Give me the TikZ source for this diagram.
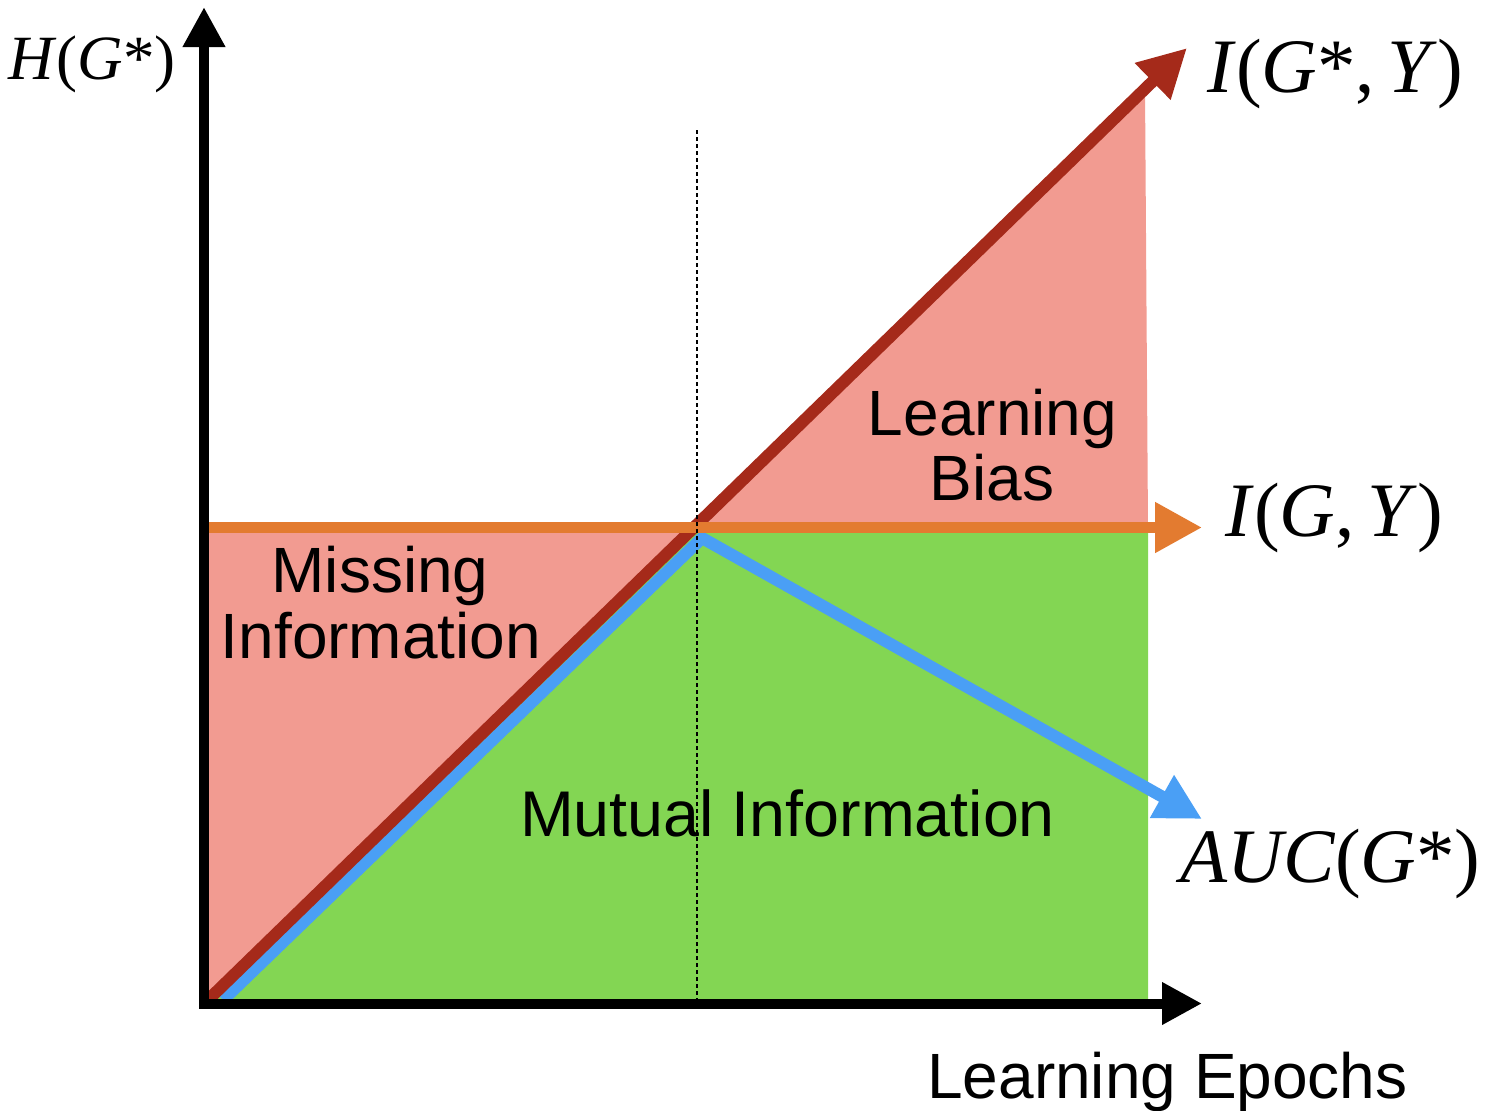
\documentclass[tikz,border=0pt]{standalone}
\usepackage{fontspec}
\setmainfont{Liberation Sans}
\newfontfamily\serifmath{Liberation Serif}
\usetikzlibrary{arrows.meta}
\definecolor{pinkF}{RGB}{242,155,145}
\definecolor{redL}{RGB}{165,42,26}
\definecolor{greenF}{RGB}{131,214,83}
\definecolor{blueL}{RGB}{74,159,245}
\definecolor{orangeL}{RGB}{227,123,48}
\begin{document}
\begin{tikzpicture}[x=0.5pt,y=-0.5pt,
  lbl/.style={font=\fontsize{32}{38}\selectfont, inner sep=0pt, anchor=base},
  mlbl/.style={font=\fontsize{38.5}{44}\serifmath, inner sep=0pt, anchor=base west},
  axisline/.style={line width=5pt, draw=black, -{Triangle[length=20pt,width=20pt]}},
  redline/.style={line width=6pt, draw=redL, -{Triangle[length=24pt,width=24pt]}},
  blueline/.style={line width=6pt, draw=blueL, -{Triangle[length=23pt,width=23pt]}},
  orangeline/.style={line width=5.5pt, draw=orangeL, -{Triangle[length=23.5pt,width=24pt]}},
  guide/.style={line width=1pt, draw=black, dash pattern=on 2pt off 1.5pt}]
\useasboundingbox (0,0) rectangle (1490,1110);
% key points
\coordinate (O) at (209,999);
\coordinate (X) at (697,527.5);
\coordinate (Rtip) at (1187,48);
\coordinate (Otip) at (1202,527.5);
\coordinate (Ostart) at (209,527.5);
\coordinate (B0) at (223,1000);
\coordinate (B1) at (702,538);
\coordinate (Btip) at (1202,819);
\coordinate (YA0) at (204,1008);
\coordinate (YAtip) at (204,7);
\coordinate (XA0) at (199,1003.5);
\coordinate (XAtip) at (1202,1003.5);
\coordinate (D0) at (697,130);
\coordinate (D1) at (697,1000);
% fills
\fill[pinkF] (209,527.5) -- (X) -- (O) -- cycle;
\fill[pinkF] (X) -- (1145,88) -- (1148,527.5) -- cycle;
\fill[greenF] (O) -- (X) -- (1148,527.5) -- (1148,1000) -- (209,1000) -- cycle;
% curves
\draw[blueline] (B0) -- (B1) -- (Btip);
\draw[redline] (O) -- (Rtip);
\draw[orangeline] (Ostart) -- (Otip);
% axes
\draw[axisline] (YA0) -- (YAtip);
\draw[axisline] (XA0) -- (XAtip);
% labels
\node[lbl] (lb1) at (992.5,435) {Learning};
\node[lbl] (lb2) at (992,500) {Bias};
\node[lbl] (mi1) at (380,592) {Missing};
\node[lbl] (mi2) at (381,658) {Information};
\node[lbl, font=\fontsize{32.3}{38}\selectfont] (mu) at (787.5,836) {Mutual Information};
\node[lbl] (ep) at (1167.5,1098) {Learning Epochs};
\node[mlbl, font=\fontsize{31.5}{36}\serifmath] (hg) at (8,79) {\textit{H}(\textit{G}*)};
\node[mlbl] (igs) at (1207,92) {\textit{I}(\textit{G}*,\,\textit{Y})};
\node[mlbl] (igy) at (1225,536) {\textit{I}(\textit{G},\,\textit{Y})};
\node[mlbl] (auc) at (1180,882) {\textit{AUC}(\textit{G}*)};
% guide
\draw[guide] (D0) -- (D1);
\end{tikzpicture}
\end{document}
